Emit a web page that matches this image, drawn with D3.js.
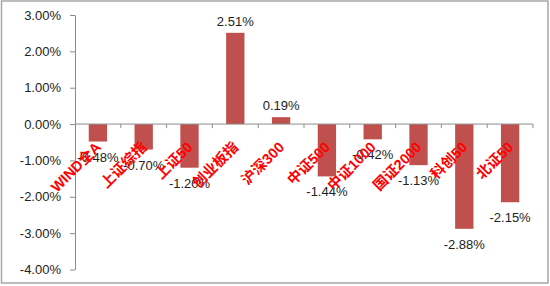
<!DOCTYPE html>
<html lang="zh">
<head>
  <meta charset="UTF-8" />
  <title>指数涨跌幅</title>
  <script src="https://d3js.org/d3.v7.min.js"></script>
  <style>
    body {
      margin: 0;
      background: #fff;
    }

    svg {
      display: block;
    }

    .axis path,
    .axis line {
      stroke: #8c8c8c;
    }

    .axis text {
      font-family: "Liberation Sans", Arial, sans-serif;
      font-size: 13px;
      fill: #222;
    }

    .val-label {
      font-family: "Liberation Sans", Arial, sans-serif;
      font-size: 13px;
      fill: #222;
    }

    .cat-label {
      font-family: "Liberation Sans", "Noto Sans CJK SC", sans-serif;
      font-size: 14.5px;
      font-weight: bold;
      fill: #ff0000;
    }
  </style>
</head>
<body>
  <svg id="chart"></svg>

  <script>
    const categories = ["WIND全A", "上证综指", "上证50", "创业板指", "沪深300",
      "中证500", "中证1000", "国证2000", "科创50", "北证50"];
    const values = [-0.48, -0.70, -1.20, 2.51, 0.19, -1.44, -0.42, -1.13, -2.88, -2.15];
    const yTicks = [-4, -3, -2, -1, 0, 1, 2, 3];

    const width = 550, height = 286;

    const svg = d3.select("#chart")
      .attr("width", width)
      .attr("height", height);

    // outer frame
    svg.append("rect")
      .attr("x", 1.5).attr("y", 1)
      .attr("width", 546.5).attr("height", 282)
      .attr("fill", "#fff")
      .attr("stroke", "#a6a6a6")
      .attr("stroke-width", 1.5);

    const x = d3.scaleBand()
      .domain(categories)
      .range([75, 533])
      .paddingInner(0.6)
      .paddingOuter(0.3);

    const y = d3.scaleLinear()
      .domain([-4, 3])
      .range([269.5, 15]);

    // y axis
    svg.append("g")
      .attr("class", "axis")
      .attr("transform", "translate(75,0)")
      .call(d3.axisLeft(y)
        .tickValues(yTicks)
        .tickSize(5)
        .tickSizeOuter(0)
        .tickPadding(9)
        .tickFormat(d => d.toFixed(2) + "%"));

    // bars
    svg.selectAll("rect.bar")
      .data(values)
      .join("rect")
      .attr("class", "bar")
      .attr("x", (d, i) => x(categories[i]))
      .attr("width", x.bandwidth())
      .attr("y", d => y(Math.max(0, d)))
      .attr("height", d => Math.abs(y(d) - y(0)))
      .attr("fill", "#c0504d");

    // category axis along zero line, ticks between categories
    const idx = d3.scaleLinear().domain([0, categories.length]).range(x.range());
    const catAxis = svg.append("g").attr("class", "axis");
    catAxis.append("line")
      .attr("x1", idx(0)).attr("x2", idx(categories.length))
      .attr("y1", y(0)).attr("y2", y(0));
    catAxis.selectAll("line.tk")
      .data(d3.range(1, categories.length + 1))
      .join("line")
      .attr("class", "tk")
      .attr("x1", d => idx(d)).attr("x2", d => idx(d))
      .attr("y1", y(0)).attr("y2", y(0) + 4);

    // value labels
    svg.selectAll("text.val-label")
      .data(values)
      .join("text")
      .attr("class", "val-label")
      .attr("text-anchor", "middle")
      .attr("x", (d, i) => x(categories[i]) + x.bandwidth() / 2)
      .attr("y", d => d >= 0 ? y(d) - 7 : y(d) + 20)
      .text(d => d.toFixed(2) + "%");

    // rotated category labels
    svg.selectAll("text.cat-label")
      .data(categories)
      .join("text")
      .attr("class", "cat-label")
      .attr("text-anchor", "end")
      .attr("transform", d => {
        const cx = x(d) + x.bandwidth() / 2 + 4;
        return `translate(${cx},${y(0) + 24}) rotate(-45)`;
      })
      .text(d => d);
  </script>
</body>
</html>
